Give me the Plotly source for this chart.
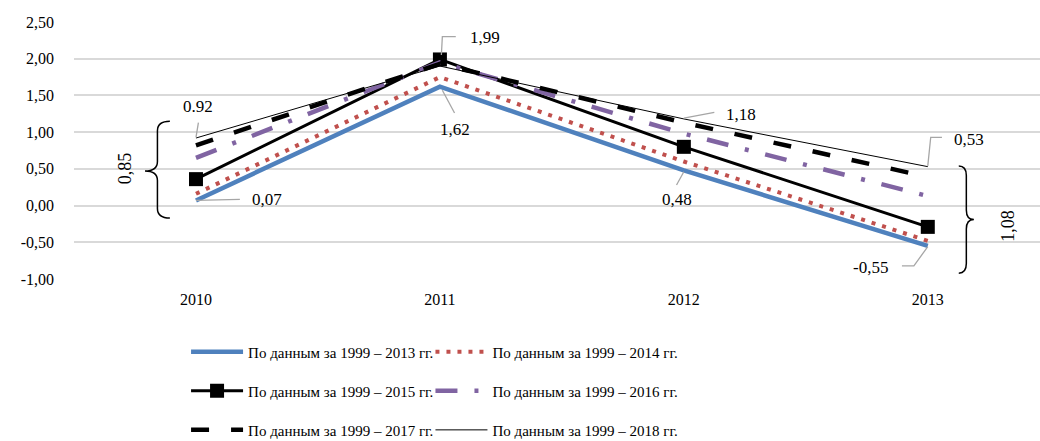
import plotly.graph_objects as go

# Годы и значения показателя для каждой версии расчёта
years = ["2010", "2011", "2012", "2013"]
s_2013 = [0.07, 1.62, 0.48, -0.55]
s_2014 = [0.16, 1.75, 0.60, -0.48]
s_2015 = [0.36, 1.99, 0.80, -0.29]
s_2016 = [0.65, 1.95, 0.98, 0.13]
s_2017 = [0.82, 1.93, 1.13, 0.39]
s_2018 = [0.92, 1.90, 1.18, 0.53]

names = [
    "По данным за 1999 – 2013 гг.",
    "По данным за 1999 – 2014 гг.",
    "По данным за 1999 – 2015 гг.",
    "По данным за 1999 – 2016 гг.",
    "По данным за 1999 – 2017 гг.",
    "По данным за 1999 – 2018 гг.",
]

y_ticks = [-1.0, -0.5, 0.0, 0.5, 1.0, 1.5, 2.0, 2.5]
y_ticktext = ["-1,00", "-0,50", "0,00", "0,50", "1,00", "1,50", "2,00", "2,50"]

FONT = "'Liberation Serif', 'Times New Roman', Times, serif"
x = list(range(len(years)))

fig = go.Figure()

styles = [
    dict(line=dict(color="#4F81BD", width=4.5), mode="lines"),
    dict(line=dict(color="#C0504D", width=4, dash="4px,7px"), mode="lines"),
    dict(line=dict(color="#000000", width=3), mode="lines+markers",
         marker=dict(symbol="square", size=14, color="#000000")),
    dict(line=dict(color="#8064A2", width=4.5, dash="22px,17px,4px,17px"), mode="lines"),
    dict(line=dict(color="#000000", width=4.5, dash="18px,22px"), mode="lines"),
    dict(line=dict(color="#000000", width=1), mode="lines"),
]
series = [s_2013, s_2014, s_2015, s_2016, s_2017, s_2018]
legend_ids = ["legend", "legend2", "legend3", "legend4", "legend5", "legend6"]

for vals, name, st, lg in zip(series, names, styles, legend_ids):
    fig.add_trace(go.Scatter(x=x, y=vals, name=name, hoverinfo="skip",
                             legend=lg, **st))

# Подписи значений с выносными линиями
GREY = "#A6A6A6"
labels = [
    ("0.92", 0.008, 1.345),
    ("0,07", 0.29, 0.08),
    ("1,99", 1.183, 2.285),
    ("1,62", 1.06, 1.03),
    ("0,48", 1.973, 0.08),
    ("1,18", 2.235, 1.235),
    ("0,53", 3.168, 0.895),
    ("-0,55", 2.767, -0.85),
]
for txt, lx, ly in labels:
    fig.add_annotation(x=lx, y=ly, text=txt, showarrow=False,
                       font=dict(family=FONT, size=17, color="#000000"))

leaders = [
    [(0, s_2018[0] + 0.01), (0.01, 1.13)],
    [(0, s_2013[0]), (0.18, 0.085)],
    [(1.006, 2.05), (1.01, 2.30), (1.065, 2.30)],
    [(1.01, s_2013[1] - 0.05), (1.06, 1.26)],
    [(2.0, s_2013[2] - 0.02), (1.97, 0.28)],
    [(2.0, s_2018[2] + 0.01), (2.125, 1.27)],
    [(3.0, s_2018[3] + 0.01), (3.012, 0.93), (3.058, 0.93)],
    [(3.0, s_2013[3] - 0.01), (2.943, -0.82), (2.894, -0.82)],
]
for pts in leaders:
    path = "M" + " L".join(f"{px},{py}" for px, py in pts)
    fig.add_shape(type="path", path=path, xref="x", yref="y",
                  line=dict(color=GREY, width=1.3), layer="above")


def brace(x_end, x_tip, y_top, y_bot, y_mid, ry=0.13):
    m = (x_end + x_tip) / 2
    return (f"M{x_end},{y_top} Q{m},{y_top} {m},{y_top - ry} "
            f"L{m},{y_mid + ry} Q{m},{y_mid} {x_tip},{y_mid} "
            f"Q{m},{y_mid} {m},{y_mid - ry} L{m},{y_bot + ry} "
            f"Q{m},{y_bot} {x_end},{y_bot}")


fig.add_shape(type="path", path=brace(-0.107, -0.209, 1.15, -0.17, 0.47),
              xref="x", yref="y", line=dict(color="#000000", width=1.5))
fig.add_shape(type="path", path=brace(3.127, 3.189, 0.54, -0.92, -0.19),
              xref="x", yref="y", line=dict(color="#000000", width=1.5))
fig.add_annotation(x=-0.29, y=0.51, text="0,85", textangle=-90, showarrow=False,
                   font=dict(family=FONT, size=18, color="#000000"))
fig.add_annotation(x=3.33, y=-0.27, text="1,08", textangle=-90, showarrow=False,
                   font=dict(family=FONT, size=18, color="#000000"))

legend_common = dict(orientation="h", xanchor="left", yanchor="middle",
                     itemwidth=52, bgcolor="rgba(0,0,0,0)",
                     font=dict(family=FONT, size=15, color="#000000"))
col_x = [0.116, 0.369]
row_y = [-0.284, -0.436, -0.588]
legend_layout = {}
for i, lg in enumerate(legend_ids):
    legend_layout[lg] = dict(x=col_x[i % 2], y=row_y[i // 2], **legend_common)

fig.update_layout(
    width=1040, height=441,
    margin=dict(l=74, r=0, t=22, b=162, autoexpand=False),
    paper_bgcolor="white", plot_bgcolor="white",
    font=dict(family=FONT, size=16, color="#000000"),
    showlegend=True,
    xaxis=dict(range=[-0.5, 3.46], tickvals=x, ticktext=years, showgrid=False,
               zeroline=False, showline=False, ticks="", ticklabelstandoff=9,
               tickfont=dict(family=FONT, size=16, color="#000000")),
    yaxis=dict(range=[-1.0, 2.5], tickvals=y_ticks, ticktext=y_ticktext,
               showgrid=True, gridcolor="#D9D9D9", gridwidth=1.5, zeroline=False,
               showline=False, ticks="", ticklabelstandoff=19,
               tickfont=dict(family=FONT, size=16, color="#000000")),
    **legend_layout,
)

fig.write_html("out.html")
